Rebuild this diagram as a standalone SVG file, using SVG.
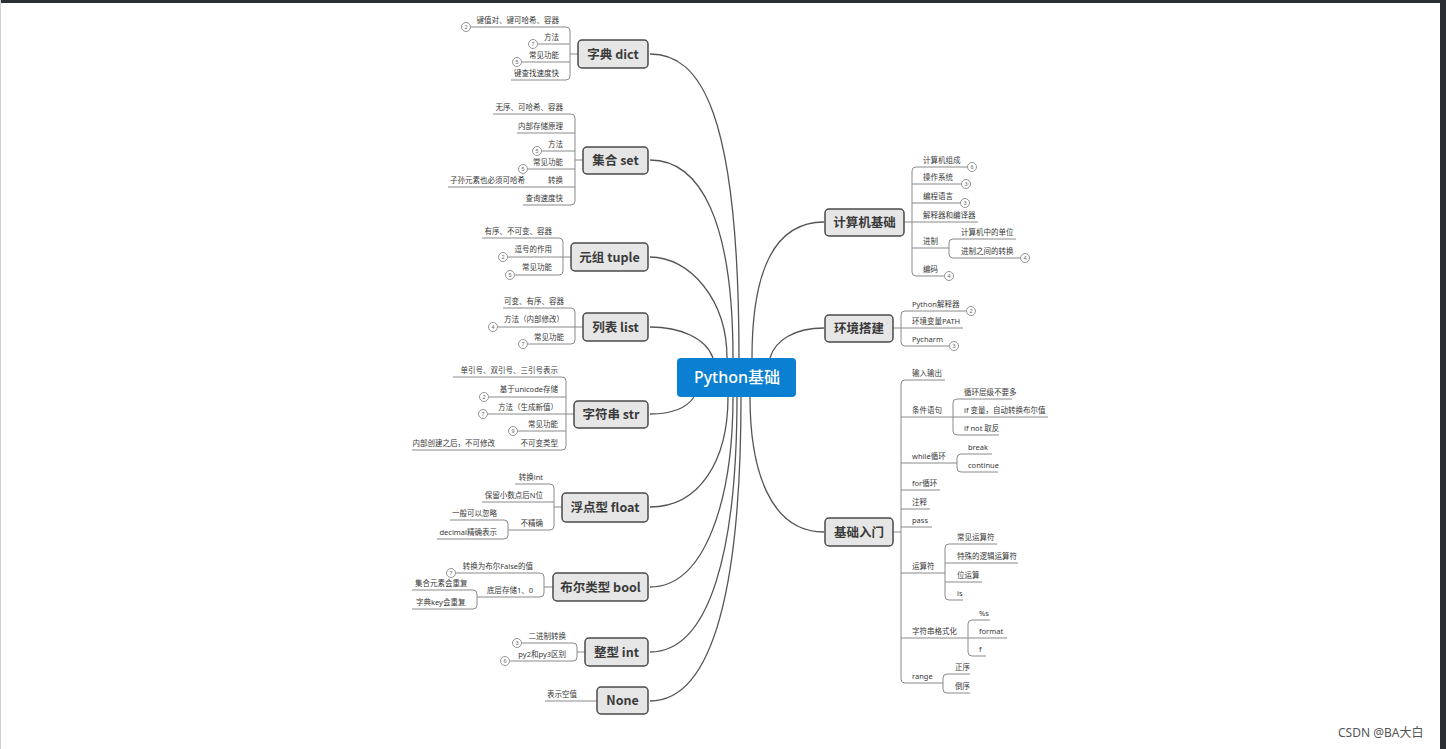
<svg xmlns="http://www.w3.org/2000/svg" width="1446" height="749" viewBox="0 0 1446 749">
<style>
.bg{fill:#ffffff}
.frame{fill:#2b2f33}
.curve{fill:none;stroke:#555;stroke-width:1.3}
.ln{fill:none;stroke:#8a8a8a;stroke-width:1}
.node rect{fill:#e6e6e6;stroke:#4a4a4a;stroke-width:1.5}
.nt{font-family:"Noto Sans CJK SC","Noto Sans",sans-serif;font-size:12.5px;font-weight:bold;fill:#3a3a3a;text-anchor:middle}
.st{font-family:"Noto Sans","Noto Sans CJK SC",sans-serif;font-size:7.5px;fill:#383838}
.e{text-anchor:end}
.cc{fill:#fff;stroke:#888;stroke-width:0.9}
.cn{font-family:"Liberation Sans",sans-serif;font-size:5.5px;fill:#666;text-anchor:middle}
.root rect{fill:#0b7fd1}
.rt{font-family:"Noto Sans","Noto Sans CJK SC",sans-serif;font-size:16px;font-weight:500;fill:#fff;text-anchor:middle}
.wm{font-family:"Noto Sans","Noto Sans CJK SC",sans-serif;font-size:12px;fill:#555}
</style>
<rect class="bg" x="0" y="0" width="1446" height="749"/>
<rect class="frame" x="0" y="0" width="1446" height="3"/>
<rect class="frame" x="1440" y="0" width="6" height="749"/>
<rect x="0" y="0" width="1" height="749" fill="#d0d0d0"/>

<g id="connectors">
  <path class="curve" d="M650 54 C700 54 739 110 739 358"/>
  <path class="curve" d="M650 160 C700 160 733 220 733 358"/>
  <path class="curve" d="M650 257 C690 257 727 300 727 358"/>
  <path class="curve" d="M650 327 C680 327 706 338 713 358"/>
  <path class="curve" d="M650 414 C675 414 688 406 694 397"/>
  <path class="curve" d="M650 507 C700 507 728 460 728 397"/>
  <path class="curve" d="M650 587 C705 587 733 500 733 397"/>
  <path class="curve" d="M650 652 C710 652 737 550 737 397"/>
  <path class="curve" d="M650 701 C715 701 741 580 741 397"/>
  <path class="curve" d="M824 222 C780 222 752 260 752 358"/>
  <path class="curve" d="M824 328 C795 328 775 340 770 358"/>
  <path class="curve" d="M824 532 C770 532 750 470 750 397"/>
</g>

<g id="root" class="root">
  <rect x="677" y="358" width="119" height="39" rx="4"/>
  <text class="rt" x="737" y="383">Python基础</text>
</g>

<!-- dict -->
<g id="dict">
  <path class="ln" d="M471 27 H566 Q570 27 570 31 V76 Q570 80 566 80 H511 M538 44 H570 M522 62 H570 M570 54 H578"/>
  <circle class="cc" cx="466" cy="27" r="4.5"/><text class="cn" x="466" y="29">2</text>
  <circle class="cc" cx="533" cy="44" r="4.5"/><text class="cn" x="533" y="46">7</text>
  <circle class="cc" cx="517" cy="62" r="4.5"/><text class="cn" x="517" y="64">5</text>
  <text class="st e" x="559" y="23">键值对、键可哈希、容器</text>
  <text class="st e" x="559" y="40">方法</text>
  <text class="st e" x="559" y="58">常见功能</text>
  <text class="st e" x="559" y="76">键查找速度快</text>
  <g class="node"><rect x="578" y="40" width="70" height="28" rx="4"/></g>
  <text class="nt" x="613" y="59">字典 dict</text>
</g>

<!-- set -->
<g id="set">
  <path class="ln" d="M493 114 H571 Q575 114 575 118 V201 Q575 205 571 205 H523 M517 133 H575 M542 151 H575 M528 169 H575 M448 187 H575 M575 160 H583"/>
  <circle class="cc" cx="537" cy="151" r="4.5"/><text class="cn" x="537" y="153">5</text>
  <circle class="cc" cx="523" cy="169" r="4.5"/><text class="cn" x="523" y="171">5</text>
  <text class="st e" x="563" y="110">无序、可哈希、容器</text>
  <text class="st e" x="563" y="129">内部存储原理</text>
  <text class="st e" x="563" y="147">方法</text>
  <text class="st e" x="563" y="165">常见功能</text>
  <text class="st e" x="563" y="183">转换</text>
  <text class="st e" x="525" y="183">子孙元素也必须可哈希</text>
  <text class="st e" x="563" y="201">查询速度快</text>
  <g class="node"><rect x="583" y="147" width="65" height="27" rx="4"/></g>
  <text class="nt" x="615.5" y="165">集合 set</text>
</g>

<!-- tuple -->
<g id="tuple">
  <path class="ln" d="M482 238 H559 Q563 238 563 242 V271 Q563 275 559 275 H515 M508 257 H571"/>
  <circle class="cc" cx="503" cy="257" r="4.5"/><text class="cn" x="503" y="259">2</text>
  <circle class="cc" cx="510" cy="275" r="4.5"/><text class="cn" x="510" y="277">5</text>
  <text class="st e" x="552" y="234">有序、不可变、容器</text>
  <text class="st e" x="552" y="252">逗号的作用</text>
  <text class="st e" x="552" y="270">常见功能</text>
  <g class="node"><rect x="571" y="243" width="77" height="28" rx="4"/></g>
  <text class="nt" x="609.5" y="262">元组 tuple</text>
</g>

<!-- list -->
<g id="list">
  <path class="ln" d="M503 308 H571 Q575 308 575 312 V340 Q575 344 571 344 H528 M498 327 H583"/>
  <circle class="cc" cx="493" cy="327" r="4.5"/><text class="cn" x="493" y="329">4</text>
  <circle class="cc" cx="523" cy="344" r="4.5"/><text class="cn" x="523" y="346">7</text>
  <text class="st e" x="564" y="304">可变、有序、容器</text>
  <text class="st e" x="564" y="322">方法（内部修改）</text>
  <text class="st e" x="564" y="340">常见功能</text>
  <g class="node"><rect x="583" y="313" width="65" height="28" rx="4"/></g>
  <text class="nt" x="615.5" y="332">列表 list</text>
</g>

<!-- str -->
<g id="str">
  <path class="ln" d="M453 377 H562 Q566 377 566 381 V446 Q566 450 562 450 H412 M489 397 H566 M488 414 H574 M518 431 H566"/>
  <circle class="cc" cx="484" cy="397" r="4.5"/><text class="cn" x="484" y="399">2</text>
  <circle class="cc" cx="483" cy="414" r="4.5"/><text class="cn" x="483" y="416">7</text>
  <circle class="cc" cx="513" cy="431" r="4.5"/><text class="cn" x="513" y="433">9</text>
  <text class="st e" x="558" y="373">单引号、双引号、三引号表示</text>
  <text class="st e" x="558" y="392">基于unicode存储</text>
  <text class="st e" x="558" y="410">方法（生成新值）</text>
  <text class="st e" x="558" y="427">常见功能</text>
  <text class="st e" x="558" y="446">不可变类型</text>
  <text class="st e" x="495" y="446">内部创建之后，不可修改</text>
  <g class="node"><rect x="574" y="401" width="74" height="27" rx="4"/></g>
  <text class="nt" x="611" y="419">字符串 str</text>
</g>

<!-- float -->
<g id="float">
  <path class="ln" d="M515 484 H550 Q554 484 554 488 V526 Q554 530 550 530 H508 M482 502 H554 M554 507 H562 M450 520 H504 Q508 520 508 524 V535 Q508 539 504 539 H437"/>
  <text class="st e" x="543" y="480">转换int</text>
  <text class="st e" x="543" y="498">保留小数点后N位</text>
  <text class="st e" x="543" y="526">不精确</text>
  <text class="st e" x="497" y="516">一般可以忽略</text>
  <text class="st e" x="497" y="535">decimal精确表示</text>
  <g class="node"><rect x="562" y="493" width="86" height="29" rx="4"/></g>
  <text class="nt" x="605" y="512">浮点型 float</text>
</g>

<!-- bool -->
<g id="bool">
  <path class="ln" d="M456 573 H540 Q544 573 544 577 V593 Q544 597 540 597 H477 M544 587 H553 M412 590 H473 Q477 590 477 594 V605 Q477 609 473 609 H412"/>
  <circle class="cc" cx="451" cy="573" r="4.5"/><text class="cn" x="451" y="575">7</text>
  <text class="st e" x="533" y="569">转换为布尔False的值</text>
  <text class="st e" x="533" y="593">底层存储1、0</text>
  <text class="st" x="415" y="586">集合元素会重复</text>
  <text class="st" x="416" y="605">字典key会重复</text>
  <g class="node"><rect x="553" y="573" width="95" height="28" rx="4"/></g>
  <text class="nt" x="600.5" y="592">布尔类型 bool</text>
</g>

<!-- int -->
<g id="int">
  <path class="ln" d="M522 643 H573 Q577 643 577 647 V657 Q577 661 573 661 H510 M577 652 H585"/>
  <circle class="cc" cx="517" cy="643" r="4.5"/><text class="cn" x="517" y="645">3</text>
  <circle class="cc" cx="505" cy="661" r="4.5"/><text class="cn" x="505" y="663">6</text>
  <text class="st e" x="566" y="639">二进制转换</text>
  <text class="st e" x="566" y="657">py2和py3区别</text>
  <g class="node"><rect x="585" y="638" width="63" height="28" rx="4"/></g>
  <text class="nt" x="616.5" y="657">整型 int</text>
</g>

<!-- None -->
<g id="none">
  <path class="ln" d="M545 701 H597"/>
  <text class="st e" x="577" y="697">表示空值</text>
  <g class="node"><rect x="597" y="687" width="51" height="27" rx="4"/></g>
  <text class="nt" x="622.5" y="705">None</text>
</g>

<!-- computer basics -->
<g id="computer">
  <path class="ln" d="M967 167 H916 Q912 167 912 171 V272 Q912 276 916 276 H944 M912 184 H961 M912 203 H960 M904 222 H978 M912 248 H949 M1016 239 H953 Q949 239 949 243 V254 Q949 258 953 258 H1020"/>
  <circle class="cc" cx="972" cy="167" r="4.5"/><text class="cn" x="972" y="169">6</text>
  <circle class="cc" cx="966" cy="184" r="4.5"/><text class="cn" x="966" y="186">3</text>
  <circle class="cc" cx="965" cy="203" r="4.5"/><text class="cn" x="965" y="205">3</text>
  <circle class="cc" cx="949" cy="276" r="4.5"/><text class="cn" x="949" y="278">4</text>
  <circle class="cc" cx="1025" cy="258" r="4.5"/><text class="cn" x="1025" y="260">4</text>
  <text class="st" x="923" y="163">计算机组成</text>
  <text class="st" x="923" y="180">操作系统</text>
  <text class="st" x="923" y="199">编程语言</text>
  <text class="st" x="923" y="218">解释器和编译器</text>
  <text class="st" x="923" y="244">进制</text>
  <text class="st" x="923" y="272">编码</text>
  <text class="st" x="961" y="235">计算机中的单位</text>
  <text class="st" x="961" y="254">进制之间的转换</text>
  <g class="node"><rect x="825" y="209" width="79" height="27" rx="4"/></g>
  <text class="nt" x="864.5" y="227">计算机基础</text>
</g>

<!-- environment -->
<g id="env">
  <path class="ln" d="M966 311 H905 Q901 311 901 315 V342 Q901 346 905 346 H949 M893 328 H963"/>
  <circle class="cc" cx="971" cy="311" r="4.5"/><text class="cn" x="971" y="313">2</text>
  <circle class="cc" cx="954" cy="346" r="4.5"/><text class="cn" x="954" y="348">3</text>
  <text class="st" x="912" y="307">Python解释器</text>
  <text class="st" x="912" y="324">环境变量PATH</text>
  <text class="st" x="912" y="342">Pycharm</text>
  <g class="node"><rect x="825" y="315" width="68" height="27" rx="4"/></g>
  <text class="nt" x="859" y="333">环境搭建</text>
</g>

<!-- basics intro -->
<g id="intro">
  <path class="ln" d="M945 380 H905 Q901 380 901 384 V679 Q901 683 905 683 H943 M893 532 H901 M901 417 H953 M901 463 H957 M901 490 H940 M901 509 H930 M901 527 H932 M901 573 H945 M901 638 H968"/>
  <path class="ln" d="M1012 399 H957 Q953 399 953 403 V431 Q953 435 957 435 H999 M953 417 H1048"/>
  <path class="ln" d="M992 454 H961 Q957 454 957 458 V468 Q957 472 961 472 H998"/>
  <path class="ln" d="M997 544 H949 Q945 544 945 548 V596 Q945 600 949 600 H963 M945 563 H1018 M945 582 H982"/>
  <path class="ln" d="M990 620 H972 Q968 620 968 624 V652 Q968 656 972 656 H986 M968 638 H1007"/>
  <path class="ln" d="M970 674 H947 Q943 674 943 678 V689 Q943 693 947 693 H970"/>
  <text class="st" x="912" y="376">输入输出</text>
  <text class="st" x="912" y="413">条件语句</text>
  <text class="st" x="912" y="459">while循环</text>
  <text class="st" x="912" y="486">for循环</text>
  <text class="st" x="912" y="505">注释</text>
  <text class="st" x="912" y="523">pass</text>
  <text class="st" x="912" y="569">运算符</text>
  <text class="st" x="912" y="634">字符串格式化</text>
  <text class="st" x="912" y="679">range</text>
  <text class="st" x="964" y="395">循环层级不要多</text>
  <text class="st" x="964" y="413">if 变量，自动转换布尔值</text>
  <text class="st" x="964" y="431">if not 取反</text>
  <text class="st" x="968" y="450">break</text>
  <text class="st" x="968" y="468">continue</text>
  <text class="st" x="957" y="540">常见运算符</text>
  <text class="st" x="957" y="559">特殊的逻辑运算符</text>
  <text class="st" x="957" y="578">位运算</text>
  <text class="st" x="957" y="596">is</text>
  <text class="st" x="979" y="616">%s</text>
  <text class="st" x="979" y="634">format</text>
  <text class="st" x="979" y="652">f</text>
  <text class="st" x="955" y="670">正序</text>
  <text class="st" x="955" y="689">倒序</text>
  <g class="node"><rect x="825" y="518" width="68" height="28" rx="4"/></g>
  <text class="nt" x="859" y="537">基础入门</text>
</g>

<text class="wm" x="1338" y="737">CSDN @BA大白</text>
</svg>
